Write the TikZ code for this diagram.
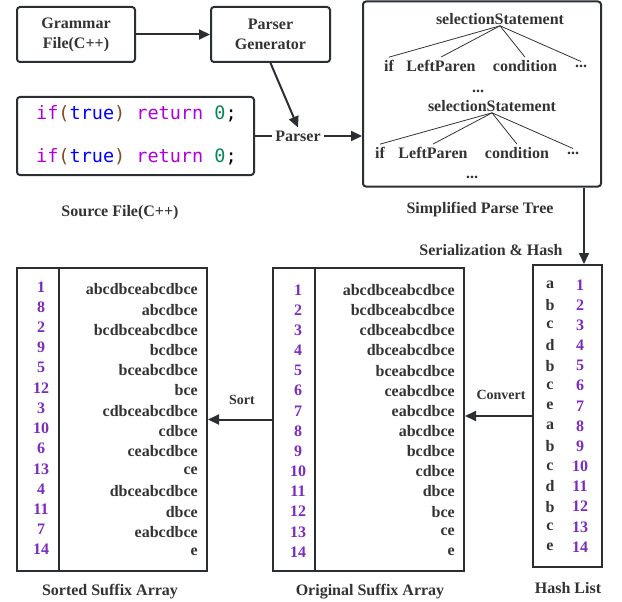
\documentclass[tikz,border=0pt]{standalone}
\usepackage{fontspec}
\setmainfont{Liberation Serif}
\newfontfamily\codefont{DejaVu Sans Mono}
\usetikzlibrary{arrows.meta,calc}
\definecolor{ink}{HTML}{333333}
\definecolor{edge}{HTML}{2B2F33}
\definecolor{num}{HTML}{7B2CBF}
\definecolor{ckw}{HTML}{AF00DB}
\definecolor{cpar}{HTML}{7F4A25}
\definecolor{cblue}{HTML}{0000FF}
\definecolor{cnum}{HTML}{098658}
\begin{document}
\begin{tikzpicture}[x=1pt,y=-1pt,
  lbl/.style={font=\fontsize{16}{20}\selectfont\bfseries, text=ink, inner sep=1pt},
  small/.style={font=\fontsize{14}{17}\selectfont\bfseries, text=ink, inner sep=1pt},
  numlbl/.style={font=\fontsize{16}{20}\selectfont\bfseries, text=num, inner sep=0pt},
  rbox/.style={draw=edge, line width=2pt, rounded corners=3pt},
  sbox/.style={draw=edge, line width=2pt},
  conn/.style={draw=edge, line width=2pt},
  arr/.style={draw=edge, line width=2pt, -{Triangle[length=11pt,width=10pt]}},
  tline/.style={draw=ink, line width=0.8pt},
  code/.style={font=\codefont\fontsize{18.5}{22}\selectfont, inner sep=0pt, anchor=west}
]
\useasboundingbox (0,0) rectangle (622,602);

% top boxes
\node[rbox, lbl, inner sep=0pt, minimum width=118pt, minimum height=55pt, align=center] (gram) at (76,34.5) {Grammar\\File(C++)};
\node[rbox, lbl, inner sep=0pt, minimum width=119pt, minimum height=55pt, align=center] (pgen) at (270.5,34.5) {Parser\\Generator};
\draw[arr] (gram) -- (pgen);

% source box
\node[rbox, minimum width=237pt, minimum height=78pt] (src) at (135.5,136) {};
\node[code] (code1) at (36,114) {\textcolor{ckw}{if}\textcolor{cpar}{(}\textcolor{cblue}{true}\textcolor{cpar}{)} \textcolor{ckw}{return} \textcolor{cnum}{0}\textcolor{black}{;}};
\node[code] (code2) at (36,157) {\textcolor{ckw}{if}\textcolor{cpar}{(}\textcolor{cblue}{true}\textcolor{cpar}{)} \textcolor{ckw}{return} \textcolor{cnum}{0}\textcolor{black}{;}};
\node[lbl] (srclbl) at (120,213) {Source File(C++)};

% parser
\node[lbl, inner sep=3pt] (parser) at (298,136) {Parser};
\draw[conn] (src.east) -- (parser.west);
\draw[arr] (pgen.south) -- (parser.north);

% tree box
\node[rbox, minimum width=238pt, minimum height=185pt] (tree) at (482,94) {};
\draw[arr] (parser.east) -- (tree.west |- parser.east);
\node[lbl] (ss1) at (500,19) {selectionStatement};
\node[lbl, inner sep=3pt] (if1) at (389,66) {if};
\node[lbl, inner sep=3pt] (lp1) at (441,66) {LeftParen};
\node[lbl, inner sep=3pt] (cd1) at (525,66) {condition};
\node[lbl, inner sep=3pt] (dt1) at (581,66) {...};
\foreach \c in {if1,lp1,cd1,dt1} \draw[tline] (ss1.south) -- (\c.north);
\node[lbl] (mid) at (478,91) {...};
\node[lbl] (ss2) at (492,106) {selectionStatement};
\node[lbl, inner sep=3pt] (if2) at (380,153) {if};
\node[lbl, inner sep=3pt] (lp2) at (433,153) {LeftParen};
\node[lbl, inner sep=3pt] (cd2) at (517,153) {condition};
\node[lbl, inner sep=3pt] (dt2) at (573,153) {...};
\foreach \c in {if2,lp2,cd2,dt2} \draw[tline] (ss2.south) -- (\c.north);
\node[lbl] (end) at (472,177) {...};
\node[lbl] (treelbl) at (480,210) {Simplified Parse Tree};

% hash list
\node[sbox, minimum width=69pt, minimum height=302pt] (hb) at (567.5,416) {};
\coordinate (down) at (584,0);
\draw[arr] (tree.south -| down) -- (hb.north -| down);
\node[lbl] (serlbl) at (491,250) {Serialization \& Hash};
\foreach \l [count=\i] in {a,b,c,d,b,c,e,a,b,c,d,b,c,e} {
  \node[lbl] (hl\i) at (550,{285+20.15*(\i-1)}) {\l};
  \node[numlbl] (hn\i) at (580,{285+20.15*(\i-1)}) {\i};
}
\node[lbl] (hashlbl) at (568,588) {Hash List};

% original suffix array
\node[sbox, minimum width=191pt, minimum height=303pt] (osa) at (368.5,419.5) {};
\draw[conn] (315,268) coordinate (od1) -- (315,571) coordinate (od2);
\foreach \s [count=\i] in {abcdbceabcdbce,bcdbceabcdbce,cdbceabcdbce,dbceabcdbce,bceabcdbce,ceabcdbce,eabcdbce,abcdbce,bcdbce,cdbce,dbce,bce,ce,e} {
  \node[numlbl] (on\i) at (298,{290+20.15*(\i-1)}) {\i};
  \node[lbl, anchor=east, inner sep=0pt] (os\i) at (455,{290+20.15*(\i-1)}) {\s};
}
\node[lbl] (osalbl) at (370,592) {Original Suffix Array};
\draw[arr] (hb.west) -- (hb.west -| osa.east);
\node[small] (convlbl) at (501,395) {Convert};

% sorted suffix array
\node[sbox, minimum width=190pt, minimum height=303pt] (ssa) at (112,419.5) {};
\draw[conn] (59,268) coordinate (sd1) -- (59,571) coordinate (sd2);
\foreach \n/\s [count=\i] in {1/abcdbceabcdbce,8/abcdbce,2/bcdbceabcdbce,9/bcdbce,5/bceabcdbce,12/bce,3/cdbceabcdbce,10/cdbce,6/ceabcdbce,13/ce,4/dbceabcdbce,11/dbce,7/eabcdbce,14/e} {
  \node[numlbl] (sn\i) at (41,{287+20.2*(\i-1)}) {\n};
  \node[lbl, anchor=east, inner sep=0pt] (ss\i) at (198,{289.5+20.2*(\i-1)}) {\s};
}
\node[lbl] (ssalbl) at (110,592) {Sorted Suffix Array};
\draw[arr] (osa.west) -- (osa.west -| ssa.east);
\node[small] (sortlbl) at (242,400) {Sort};
\end{tikzpicture}
\end{document}
